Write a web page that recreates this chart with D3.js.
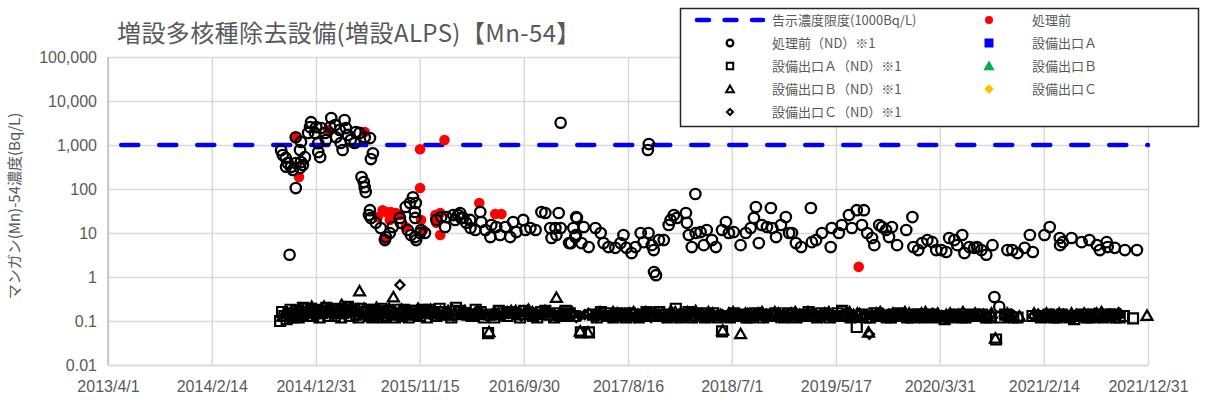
<!DOCTYPE html>
<html>
<head>
<meta charset="utf-8">
<script src="https://cdn.jsdelivr.net/npm/d3@7"></script>
<style>
  html, body { margin: 0; padding: 0; background: #fff; }
  svg { display: block; }
</style>
</head>
<body>
<svg id="chart" width="1205" height="403"></svg>
<script>
// ---- data ----
const chartTitle = "増設多核種除去設備(増設ALPS)【Mn-54】";
const yAxisTitle = "マンガン(Mn)-54濃度(Bq/L)";

const xTickDates = ["2013-04-01","2014-02-14","2014-12-31","2015-11-15","2016-09-30","2017-08-16","2018-07-01","2019-05-17","2020-03-31","2021-02-14","2021-12-31"];
const xTickLabels = ["2013/4/1","2014/2/14","2014/12/31","2015/11/15","2016/9/30","2017/8/16","2018/7/1","2019/5/17","2020/3/31","2021/2/14","2021/12/31"];
const yTickValues = [0.01, 0.1, 1, 10, 100, 1000, 10000, 100000];
const yTickLabels = ["0.01","0.1","1","10","100","1,000","10,000","100,000"];

// 告示濃度限度 (Bq/L)
const limitValue = 1000;

// 処理前 (detected)
const preDetected = [
  ["2014-10-30",1440],["2014-11-09",187],["2015-02-07",2200],["2015-05-30",1970],
  ["2015-11-16",800],["2016-01-30",1300],["2015-11-16",105],
  ["2015-07-09",23],["2015-07-24",33],["2015-08-03",30],["2015-08-18",30],["2015-09-03",28.5],
  ["2015-09-15",25.6],["2015-07-31",6.9],["2015-08-15",19.8],["2015-10-03",13.7],
  ["2015-11-19",19.8],["2015-11-25",11.7],["2016-01-02",25.6],["2016-01-05",17],
  ["2016-01-17",28.5],["2016-01-17",9],["2016-05-16",48],["2016-07-04",27],["2016-07-23",27],
  ["2019-07-26",1.7]
];

// 処理前 (ND) ※1
const preND = [
  ["2014-09-15",760],["2014-09-20",590],["2014-09-29",510],["2014-10-05",390],["2014-10-15",315],
  ["2014-09-30",320],["2014-10-21",270],["2014-10-30",390],["2014-11-15",410],["2014-11-21",350],
  ["2014-11-12",300],["2014-11-27",530],["2014-10-30",105],["2014-10-11",3.2],
  ["2014-12-16",3300],["2014-12-13",2550],["2014-12-07",1880],["2014-12-28",1880],["2015-01-07",1100],
  ["2015-01-07",690],["2015-01-13",530],["2015-01-01",2550],["2015-01-16",2430],["2015-02-16",4100],
  ["2015-02-13",2550],["2015-02-28",2850],["2015-03-14",2200],["2015-03-29",3700],["2015-04-02",2430],
  ["2015-04-08",1690],["2015-03-17",1110],["2015-03-23",770],["2015-04-17",1300],["2015-05-02",1970],
  ["2015-05-14",1880],["2015-05-30",1500],["2015-06-15",1440],["2014-10-30",1500],["2014-11-15",1170],
  ["2014-11-12",770],["2015-01-28",1880],["2015-01-31",1300],["2015-03-03",1500],["2015-04-29",1110],
  ["2015-06-24",650],["2015-06-18",480],["2015-05-20",187],["2015-05-27",144],["2015-05-30",110],
  ["2015-06-02",85],["2015-06-15",33],["2015-06-12",25.6],["2015-06-18",22],["2015-07-03",17],
  ["2015-07-18",13],["2015-07-31",6.9],["2015-08-03",8.1],["2015-08-15",10],["2015-08-24",13.7],
  ["2015-09-15",22],["2015-09-18",17],["2015-10-03",39],["2015-10-16",48],["2015-10-25",65],
  ["2015-11-03",48],["2015-10-31",30],["2015-11-01",22],["2015-10-09",11.7],["2015-10-19",9],
  ["2015-11-01",8.1],["2015-11-16",10],["2015-11-19",11.7],["2015-12-01",10],["2015-11-04",6.9],
  ["2016-01-05",19.8],["2016-01-20",23],["2016-02-05",23],["2016-02-01",13.7],["2016-02-26",25.6],
  ["2016-03-12",25.6],["2016-03-28",22],["2016-04-06",17],["2016-03-03",19.8],
  ["2016-03-18",28.5],["2016-03-21",22],["2016-04-18",19.8],["2016-04-19",13],["2016-05-04",11.7],
  ["2016-05-19",30],["2016-05-22",17.8],["2016-06-04",11.7],["2016-06-19",8.1],["2016-06-22",15.2],
  ["2016-07-07",13.7],["2016-07-19",9],["2016-08-04",13.7],["2016-08-19",8.1],["2016-08-28",17.8],
  ["2016-09-07",10.5],["2016-09-28",19.8],["2016-10-05",11.7],["2016-10-20",13],["2016-11-05",11.7],
  ["2016-11-23",30],["2016-12-05",28.5],["2016-12-20",13],["2017-01-05",13],["2017-01-15",28.5],
  ["2017-01-08",9],["2016-12-24",7.7],["2017-02-22",5.9],["2017-03-09",9],["2017-03-12",22],
  ["2017-01-21",3200],
  ["2017-10-19",1050],["2017-10-16",770],["2017-11-04",1.3],["2017-11-10",1.1],["2018-03-11",77],
  ["2017-01-21",13],["2017-02-16",5.9],["2017-03-10",23],["2017-03-01",13],["2017-03-07",8.1],
  ["2017-04-02",13.7],["2017-03-26",5.9],["2017-04-17",4.8],["2017-05-08",13],["2017-05-24",10],
  ["2017-06-02",5.9],["2017-06-17",4.8],["2017-07-08",4.6],["2017-07-24",5.9],["2017-08-02",9],
  ["2017-08-11",4.6],["2017-08-27",3.5],["2017-09-08",4.8],["2017-09-24",10],["2017-10-03",6.2],
  ["2017-10-18",10],["2017-10-28",5.3],["2017-11-03",4.1],["2017-11-19",6.9],["2017-12-04",6.9],
  ["2017-12-19",15.2],["2017-12-25",19.8],["2018-01-04",25.6],["2018-01-13",22],["2018-02-10",28.5],
  ["2018-02-13",17],["2018-02-19",9],["2018-02-28",4.8],["2018-03-12",10],["2018-03-27",10.5],
  ["2018-04-06",5.3],["2018-04-15",11.7],["2018-05-01",6.9],["2018-05-13",4.8],["2018-06-01",11.7],
  ["2018-06-13",17.8],["2018-06-22",10],["2018-07-07",10.5],["2018-07-28",5.3],["2018-08-13",10],
  ["2018-08-28",13],["2018-09-07",22],["2018-09-13",39],["2018-09-22",5.9],["2018-10-01",15.2],
  ["2018-10-17",13.7],["2018-10-29",37],["2018-11-02",13],["2018-11-14",8.1],["2018-11-29",15.2],
  ["2018-12-14",23],["2018-12-24",10],["2019-01-02",10],["2019-01-14",5.9],["2019-01-30",4.8],
  ["2019-03-01",37],["2019-03-04",6.2],["2019-03-17",6.9],["2019-04-04",10],["2019-05-01",4.8],
  ["2019-05-04",13],["2019-05-26",10],["2019-06-04",15.2],["2019-06-26",25.6],["2019-07-05",13],
  ["2019-07-20",33],
  ["2019-08-11",33],["2019-08-05",15.2],["2019-08-21",10],["2019-09-05",7.7],["2019-09-12",5.3],
  ["2019-09-27",15.2],["2019-10-06",13.7],["2019-10-18",11.7],["2019-10-27",8.1],["2019-11-05",13.7],
  ["2019-11-21",5.3],["2019-12-19",11.7],["2020-01-07",23],["2020-01-10",4.8],["2020-01-25",4.1],
  ["2020-02-06",5.9],["2020-02-22",6.9],["2020-03-08",6.2],["2020-03-20",4.1],["2020-04-05",4.1],
  ["2020-04-20",3.7],["2020-04-29",7.7],["2020-05-15",6.9],["2020-05-24",5.3],["2020-06-08",9],
  ["2020-06-15",3.5],["2020-06-30",4.8],["2020-07-15",4.6],["2020-07-24",4.8],["2020-08-06",4.1],
  ["2020-08-21",3.2],["2020-09-09",5.3],["2020-09-15",0.35],["2020-09-30",0.21],["2020-10-25",4.1],
  ["2020-11-09",4.1],["2020-11-25",3.5],["2020-12-17",4.6],["2021-01-02",9],["2021-01-11",3.7],
  ["2021-02-16",9],["2021-03-04",13.7],["2021-04-04",7.7],["2021-04-05",5.3],["2021-04-13",6.2],
  ["2021-05-10",7.7],["2021-06-10",6.2],["2021-07-04",6.9],["2021-07-27",5.3],["2021-08-05",4.1],
  ["2021-08-26",6.2],["2021-08-29",4.8],["2021-09-20",4.6],["2021-10-21",4.1],["2021-11-27",4.1]
];

// 設備出口A (ND) ※1
const outletAND = [
  ["2014-09-12",0.10],["2014-09-25",0.13],["2014-10-08",0.15],["2014-10-20",0.12],["2014-11-02",0.17],
  ["2014-11-15",0.14],["2014-11-28",0.19],["2014-12-10",0.16],["2014-12-22",0.13],["2015-01-05",0.18],
  ["2015-01-18",0.15],["2015-02-01",0.20],["2015-02-14",0.16],["2015-02-27",0.13],["2015-03-12",0.18],
  ["2015-03-25",0.15],["2015-04-08",0.21],["2015-04-21",0.17],["2015-05-04",0.14],["2015-05-18",0.19],
  ["2015-06-01",0.16],["2015-06-15",0.13],["2015-06-29",0.18],["2015-07-13",0.15],["2015-07-27",0.12],
  ["2015-08-10",0.17],["2015-08-24",0.14],["2015-09-07",0.18],["2015-09-21",0.13],["2015-10-05",0.16],
  ["2015-10-19",0.14],["2015-11-02",0.17],["2015-11-16",0.13],["2015-11-30",0.15],["2015-12-14",0.18],
  ["2015-12-28",0.15],["2016-01-15",0.19],["2016-02-10",0.14],["2016-03-05",0.20],["2016-03-30",0.15],
  ["2016-04-25",0.13],["2016-05-20",0.16],["2016-06-12",0.053],["2016-06-20",0.14],["2016-07-15",0.17],
  ["2016-08-10",0.13],["2016-09-05",0.15],["2016-10-01",0.17],["2016-10-28",0.13],["2016-11-22",0.16],
  ["2016-12-18",0.14],["2017-01-12",0.15],["2017-02-05",0.17],["2017-03-01",0.13],["2017-03-24",0.055],
  ["2017-04-18",0.055],["2017-04-30",0.14],["2017-05-25",0.16],["2017-06-20",0.13],["2017-07-15",0.15],
  ["2017-08-10",0.12],["2017-09-05",0.14],["2017-10-01",0.13],["2017-10-25",0.15],["2017-11-20",0.16],
  ["2017-12-15",0.12],["2018-01-10",0.19],["2018-02-05",0.14],["2018-03-01",0.12],["2018-03-28",0.15],
  ["2018-04-22",0.13],["2018-05-18",0.12],["2018-06-01",0.058],["2018-06-12",0.13],["2018-07-08",0.15],
  ["2018-08-02",0.13],["2018-08-28",0.12],["2018-09-22",0.14],["2018-10-18",0.13],["2018-11-12",0.15],
  ["2018-12-08",0.12],["2019-01-02",0.14],["2019-01-28",0.13],["2019-02-22",0.16],["2019-03-20",0.12],
  ["2019-04-15",0.14],["2019-05-10",0.13],["2019-06-05",0.17],["2019-07-01",0.12],["2019-07-20",0.073],
  ["2019-08-05",0.14],["2019-08-30",0.12],["2019-09-25",0.13],["2019-10-20",0.12],["2019-11-15",0.14],
  ["2019-12-10",0.13],["2020-01-05",0.12],["2020-02-01",0.14],["2020-02-25",0.13],["2020-03-20",0.12],
  ["2020-04-15",0.11],["2020-05-10",0.13],["2020-06-05",0.12],["2020-07-01",0.14],["2020-07-25",0.13],
  ["2020-08-20",0.12],["2020-09-20",0.038],["2020-10-05",0.12],["2020-10-30",0.13],["2020-11-25",0.12],
  ["2021-01-10",0.13],["2021-02-05",0.12],["2021-03-01",0.14],["2021-03-28",0.12],["2021-04-22",0.13],
  ["2021-05-18",0.11],["2021-06-12",0.14],["2021-07-08",0.12],["2021-08-02",0.13],["2021-08-28",0.14],
  ["2021-09-22",0.12],["2021-10-18",0.13],["2021-11-15",0.115],
  ["2014-09-18",0.16],["2014-10-02",0.11],["2014-10-14",0.18],["2014-10-27",0.14],["2014-11-08",0.12],
  ["2014-11-21",0.20],["2014-12-04",0.13],["2014-12-16",0.19],["2014-12-29",0.15],["2015-01-11",0.12],
  ["2015-01-24",0.17],["2015-02-07",0.13],["2015-02-20",0.19],["2015-03-05",0.15],["2015-03-18",0.12],
  ["2015-04-01",0.17],["2015-04-14",0.13],["2015-04-28",0.19],["2015-05-11",0.12],["2015-05-25",0.15],
  ["2015-06-08",0.18],["2015-06-22",0.12],["2015-07-06",0.16],["2015-07-20",0.19],["2015-08-03",0.13],
  ["2015-08-17",0.16],["2015-08-31",0.12],["2015-09-14",0.15],["2015-09-28",0.18],["2015-10-12",0.12],
  ["2015-10-26",0.17],["2015-11-09",0.15],["2015-11-23",0.18],["2015-12-07",0.12],["2015-12-21",0.16],
  ["2016-01-05",0.13],["2016-01-25",0.16],["2016-02-20",0.12],["2016-03-15",0.17],["2016-04-10",0.14],
  ["2016-05-05",0.18],["2016-05-30",0.12],
  ["2016-07-01",0.12],["2016-07-28",0.15],["2016-08-22",0.16],["2016-09-18",0.12],["2016-10-15",0.15],
  ["2016-11-10",0.12],["2016-12-05",0.17],["2017-01-01",0.12],["2017-01-25",0.13],["2017-02-18",0.15],
  ["2017-05-12",0.12],["2017-06-08",0.15],["2017-07-02",0.12],["2017-07-28",0.14],["2017-08-22",0.15],
  ["2017-09-18",0.12],["2017-10-12",0.16],["2017-11-08",0.13],["2017-12-02",0.14],["2017-12-28",0.13],
  ["2018-01-22",0.12],["2018-02-18",0.16],["2018-03-15",0.13],["2018-04-10",0.12],["2018-05-05",0.15],
  ["2018-06-25",0.12],["2018-07-20",0.14],["2018-08-15",0.12],["2018-09-10",0.15],["2018-10-05",0.12],
  ["2018-10-30",0.14],["2018-11-25",0.13],["2018-12-20",0.15],["2019-01-15",0.12],["2019-02-10",0.14],
  ["2019-03-08",0.13],["2019-04-02",0.15],["2019-04-28",0.12],["2019-05-22",0.15],["2019-06-18",0.13],
  ["2019-08-18",0.12],["2019-09-12",0.15],["2019-10-08",0.13],["2019-11-02",0.12],["2019-11-28",0.15],
  ["2019-12-22",0.12],["2020-01-18",0.14],["2020-02-12",0.12],["2020-03-08",0.14],["2020-04-02",0.13],
  ["2020-04-28",0.12],["2020-05-22",0.14],["2020-06-18",0.12],["2020-07-12",0.13],["2020-08-08",0.14],
  ["2020-09-02",0.12],["2020-10-18",0.14],["2020-11-12",0.12],["2021-02-18",0.13],["2021-03-15",0.12],
  ["2021-04-10",0.14],["2021-05-05",0.12],["2021-05-30",0.13],["2021-06-25",0.12],["2021-07-20",0.14],
  ["2021-08-15",0.12],["2021-09-10",0.14],["2021-10-05",0.12]
];

// 設備出口B (ND) ※1
const outletBND = [
  ["2014-09-20",0.12],["2014-10-15",0.15],["2014-11-10",0.18],["2014-12-05",0.14],["2014-12-30",0.17],
  ["2015-01-25",0.20],["2015-02-20",0.16],["2015-03-20",0.22],["2015-04-15",0.17],["2015-05-14",0.45],
  ["2015-06-10",0.16],["2015-07-05",0.19],["2015-08-01",0.14],["2015-08-26",0.33],["2015-09-20",0.17],
  ["2015-10-15",0.15],["2015-11-10",0.18],["2015-12-05",0.14],["2016-01-01",0.16],["2016-01-28",0.13],
  ["2016-02-22",0.17],["2016-03-20",0.15],["2016-04-15",0.14],["2016-05-10",0.16],["2016-06-05",0.13],
  ["2016-06-15",0.053],["2016-07-01",0.15],["2016-07-28",0.14],["2016-08-22",0.16],["2016-09-18",0.13],
  ["2016-10-14",0.17],["2016-11-08",0.14],["2016-12-04",0.16],["2017-01-08",0.32],["2017-01-30",0.13],
  ["2017-02-25",0.15],["2017-03-22",0.055],["2017-04-15",0.052],["2017-05-10",0.14],["2017-06-05",0.13],
  ["2017-07-01",0.15],["2017-07-26",0.12],["2017-08-20",0.14],["2017-09-15",0.13],["2017-10-10",0.15],
  ["2017-11-05",0.12],["2017-12-01",0.14],["2017-12-26",0.16],["2018-01-20",0.13],["2018-02-15",0.15],
  ["2018-03-12",0.16],["2018-04-07",0.12],["2018-05-03",0.14],["2018-05-28",0.13],["2018-06-03",0.058],
  ["2018-06-22",0.14],["2018-07-18",0.12],["2018-07-28",0.048],["2018-08-12",0.14],["2018-09-07",0.13],
  ["2018-10-02",0.15],["2018-10-28",0.12],["2018-11-22",0.14],["2018-12-18",0.13],["2019-01-12",0.15],
  ["2019-02-08",0.12],["2019-03-05",0.14],["2019-03-30",0.13],["2019-04-25",0.15],["2019-05-20",0.12],
  ["2019-06-15",0.14],["2019-07-10",0.13],["2019-08-05",0.12],["2019-08-25",0.052],["2019-09-18",0.14],
  ["2019-10-12",0.12],["2019-11-08",0.14],["2019-12-02",0.13],["2019-12-28",0.14],["2020-01-22",0.12],
  ["2020-02-16",0.15],["2020-03-12",0.13],["2020-04-06",0.12],["2020-05-02",0.14],["2020-05-28",0.13],
  ["2020-06-22",0.12],["2020-07-18",0.14],["2020-08-12",0.13],["2020-09-06",0.14],["2020-09-18",0.038],
  ["2020-11-05",0.13],["2020-12-01",0.12],["2021-01-15",0.14],["2021-02-10",0.12],["2021-03-08",0.13],
  ["2021-04-02",0.14],["2021-04-28",0.12],["2021-05-24",0.13],["2021-06-18",0.14],["2021-07-14",0.12],
  ["2021-08-10",0.15],["2021-09-05",0.13],["2021-10-01",0.14],["2021-12-28",0.125],
  ["2014-10-02",0.14],["2014-10-28",0.12],["2014-11-22",0.16],["2014-12-18",0.20],["2015-01-12",0.15],
  ["2015-02-07",0.18],["2015-03-05",0.14],["2015-04-02",0.19],["2015-04-28",0.15],["2015-05-28",0.18],
  ["2015-06-22",0.13],["2015-07-18",0.16],["2015-08-13",0.18],["2015-09-08",0.13],["2015-10-02",0.16],
  ["2015-10-28",0.13],["2015-11-22",0.16],["2015-12-18",0.17],["2016-01-14",0.14],["2016-02-10",0.16],
  ["2016-03-08",0.13],["2016-04-02",0.16],["2016-04-28",0.13],["2016-05-22",0.15],
  ["2016-07-15",0.13],["2016-08-10",0.15],["2016-09-05",0.16],["2016-10-01",0.13],["2016-10-26",0.15],
  ["2016-11-20",0.13],["2016-12-18",0.15],["2017-01-18",0.14],["2017-02-12",0.12],["2017-05-22",0.15],
  ["2017-06-18",0.12],["2017-07-14",0.14],["2017-08-08",0.13],["2017-09-02",0.15],["2017-09-28",0.12],
  ["2017-10-22",0.14],["2017-11-18",0.13],["2017-12-14",0.12],["2018-01-08",0.15],["2018-02-02",0.12],
  ["2018-02-28",0.14],["2018-03-25",0.13],["2018-04-20",0.15],["2018-05-15",0.12],["2018-07-05",0.15],
  ["2018-08-25",0.12],["2018-09-20",0.14],["2018-10-15",0.13],["2018-11-10",0.15],["2018-12-05",0.12],
  ["2018-12-30",0.14],["2019-01-25",0.13],["2019-02-20",0.15],["2019-03-18",0.12],["2019-04-12",0.14],
  ["2019-05-08",0.13],["2019-06-02",0.12],["2019-06-28",0.15],["2019-07-22",0.14],["2019-09-05",0.13],
  ["2019-09-30",0.15],["2019-10-25",0.13],["2019-11-20",0.12],["2019-12-15",0.15],["2020-01-10",0.13],
  ["2020-02-04",0.14],["2020-02-28",0.12],["2020-03-25",0.14],["2020-04-20",0.13],["2020-05-15",0.12],
  ["2020-06-10",0.15],["2020-07-05",0.12],["2020-07-30",0.13],["2020-08-25",0.12],["2020-10-25",0.14],
  ["2021-01-28",0.13],["2021-02-22",0.14],["2021-03-20",0.12],["2021-04-15",0.13],["2021-05-10",0.14],
  ["2021-06-05",0.12],["2021-06-30",0.13],["2021-07-26",0.14],["2021-08-22",0.12],["2021-09-18",0.13]
];

// 設備出口C (ND) ※1
const outletCND = [
  ["2014-10-01",0.14],["2014-10-28",0.16],["2014-11-22",0.13],["2014-12-18",0.18],["2015-01-12",0.15],
  ["2015-02-08",0.19],["2015-03-05",0.16],["2015-03-30",0.14],["2015-04-25",0.18],["2015-05-20",0.15],
  ["2015-06-15",0.13],["2015-07-10",0.17],["2015-08-05",0.14],["2015-08-30",0.16],["2015-09-15",0.66],
  ["2015-09-25",0.13],["2015-10-20",0.15],["2015-11-15",0.13],["2015-12-10",0.16],["2016-01-05",0.14],
  ["2016-02-01",0.16],["2016-02-27",0.13],["2016-03-24",0.15],["2016-04-20",0.14],["2016-05-15",0.16],
  ["2016-06-10",0.13],["2016-07-06",0.15],["2016-08-01",0.14],["2016-08-27",0.16],["2016-09-22",0.13],
  ["2016-10-18",0.15],["2016-11-13",0.14],["2016-12-09",0.16],["2017-01-04",0.13],["2017-01-30",0.15],
  ["2017-02-25",0.14],["2017-03-22",0.13],["2017-04-17",0.15],["2017-05-12",0.12],["2017-06-07",0.14],
  ["2017-07-03",0.13],["2017-07-28",0.15],["2017-08-23",0.12],["2017-09-18",0.14],["2017-10-13",0.13],
  ["2017-11-08",0.15],["2017-12-04",0.12],["2017-12-30",0.14],["2018-01-25",0.13],["2018-02-20",0.15],
  ["2018-03-18",0.14],["2018-04-12",0.12],["2018-05-08",0.13],["2018-06-02",0.14],["2018-06-28",0.12],
  ["2018-07-23",0.13],["2018-08-18",0.15],["2018-09-12",0.13],["2018-10-08",0.12],["2018-11-02",0.14],
  ["2018-11-28",0.13],["2018-12-23",0.12],["2019-01-18",0.14],["2019-02-12",0.13],["2019-03-10",0.15],
  ["2019-04-05",0.12],["2019-04-30",0.14],["2019-05-26",0.13],["2019-06-20",0.15],["2019-07-16",0.12],
  ["2019-08-10",0.14],["2019-08-28",0.05],["2019-09-25",0.13],["2019-10-20",0.14],["2019-11-15",0.12],
  ["2019-12-10",0.14],["2020-01-05",0.13],["2020-01-30",0.12],["2020-02-25",0.14],["2020-03-22",0.13],
  ["2020-04-16",0.12],["2020-05-12",0.14],["2020-06-06",0.13],["2020-07-02",0.12],["2020-07-28",0.14],
  ["2020-08-22",0.13],["2020-10-15",0.13],["2020-11-10",0.14],["2021-01-11",0.13],["2021-02-20",0.12],
  ["2021-03-15",0.14],["2021-04-10",0.13],["2021-05-05",0.12],["2021-06-01",0.14],["2021-06-25",0.13],
  ["2021-07-20",0.15],["2021-08-15",0.13],["2021-09-10",0.12],["2021-10-05",0.15],
  ["2014-10-15",0.12],["2014-11-10",0.18],["2014-12-05",0.15],["2014-12-30",0.13],["2015-01-25",0.17],
  ["2015-02-20",0.14],["2015-03-18",0.19],["2015-04-12",0.16],["2015-05-08",0.13],["2015-06-02",0.17],
  ["2015-06-28",0.15],["2015-07-22",0.13],["2015-08-18",0.17],["2015-10-08",0.17],["2015-11-02",0.14],
  ["2015-11-28",0.17],["2015-12-22",0.13],["2016-01-18",0.17],["2016-02-14",0.14],["2016-03-10",0.17],
  ["2016-04-06",0.13],["2016-05-02",0.15],["2016-05-28",0.14],
  ["2016-06-22",0.14],["2016-07-18",0.13],["2016-08-14",0.15],["2016-09-08",0.14],["2016-10-05",0.16],
  ["2016-10-30",0.13],["2016-11-26",0.15],["2016-12-22",0.13],["2017-01-17",0.14],["2017-02-12",0.15],
  ["2017-03-10",0.12],["2017-04-05",0.14],["2017-04-30",0.13],["2017-05-25",0.14],["2017-06-20",0.12],
  ["2017-07-15",0.14],["2017-08-10",0.13],["2017-09-05",0.12],["2017-10-01",0.15],["2017-10-26",0.12],
  ["2017-11-20",0.14],["2017-12-16",0.13],["2018-01-12",0.12],["2018-02-08",0.14],["2018-03-05",0.12],
  ["2018-03-30",0.15],["2018-04-25",0.13],["2018-05-20",0.14],["2018-06-15",0.13],["2018-07-10",0.14],
  ["2018-08-05",0.12],["2018-08-30",0.14],["2018-09-25",0.15],["2018-10-20",0.13],["2018-11-15",0.12],
  ["2018-12-10",0.14],["2019-01-05",0.13],["2019-01-30",0.12],["2019-02-25",0.14],["2019-03-22",0.13],
  ["2019-04-18",0.15],["2019-05-12",0.12],["2019-06-08",0.14],["2019-07-02",0.13],["2019-07-28",0.15],
  ["2019-09-12",0.12],["2019-10-08",0.15],["2019-11-02",0.13],["2019-11-28",0.14],["2019-12-22",0.12],
  ["2020-01-18",0.14],["2020-02-12",0.13],["2020-03-08",0.15],["2020-04-02",0.12],["2020-04-28",0.14],
  ["2020-05-25",0.12],["2020-06-18",0.14],["2020-07-15",0.13],["2020-08-10",0.12],["2020-09-02",0.14],
  ["2020-10-28",0.12],["2021-01-25",0.14],["2021-03-01",0.13],["2021-03-28",0.12],["2021-04-22",0.14],
  ["2021-05-18",0.13],["2021-06-12",0.12],["2021-07-08",0.14],["2021-08-02",0.12],["2021-08-28",0.14],
  ["2021-09-22",0.13]
];

const legendLabels = [
  "告示濃度限度(1000Bq/L)", "処理前",
  "処理前（ND）※1", "設備出口Ａ",
  "設備出口Ａ（ND）※1", "設備出口Ｂ",
  "設備出口Ｂ（ND）※1", "設備出口Ｃ",
  "設備出口Ｃ（ND）※1"
];

// ---- layout ----
const parse = d3.timeParse("%Y-%m-%d");
const plot = { left: 108, right: 1148, top: 57, bottom: 365 };
const textColor = "#595959";
const gridColor = "#d9d9d9";
const cjkFont = "'Noto Sans CJK JP', 'Noto Sans', sans-serif";
const numFont = "'Liberation Sans', Arial, sans-serif";

const svg = d3.select("#chart");

const x = d3.scaleTime()
  .domain([parse(xTickDates[0]), parse(xTickDates[xTickDates.length - 1])])
  .range([plot.left, plot.right]);
const y = d3.scaleLog()
  .domain([yTickValues[0], yTickValues[yTickValues.length - 1]])
  .range([plot.bottom, plot.top]);

// gridlines + y labels
const yAxis = d3.axisLeft(y)
  .tickValues(yTickValues)
  .tickFormat((d, i) => yTickLabels[i])
  .tickSizeInner(-(plot.right - plot.left))
  .tickSizeOuter(0)
  .tickPadding(11);
const gy = svg.append("g").attr("transform", `translate(${plot.left},0)`).call(yAxis);
gy.select(".domain").remove();
gy.selectAll(".tick line").attr("stroke", gridColor).attr("stroke-width", 1.5);
gy.selectAll(".tick text").attr("fill", textColor).style("font-family", numFont).style("font-size", "16px");

// gridlines + x labels
const xAxis = d3.axisBottom(x)
  .tickValues(xTickDates.map(parse))
  .tickFormat((d, i) => xTickLabels[i])
  .tickSizeInner(-(plot.bottom - plot.top))
  .tickSizeOuter(0)
  .tickPadding(16);
const gx = svg.append("g").attr("transform", `translate(0,${plot.bottom})`).call(xAxis);
gx.select(".domain").attr("stroke", gridColor).attr("stroke-width", 1.5);
gx.selectAll(".tick line").attr("stroke", gridColor).attr("stroke-width", 1.5);
gx.selectAll(".tick text").attr("fill", textColor).style("font-family", numFont).style("font-size", "16px");

// left axis line
svg.append("line")
  .attr("x1", plot.left).attr("x2", plot.left)
  .attr("y1", plot.top).attr("y2", plot.bottom)
  .attr("stroke", "#bfbfbf").attr("stroke-width", 1.5);

// limit line
const limitLine = d3.line().x(d => x(d[0])).y(d => y(d[1]));
svg.append("path")
  .datum([[x.domain()[0], limitValue], [x.domain()[1], limitValue]])
  .attr("d", limitLine)
  .attr("fill", "none")
  .attr("stroke", "#0000ff")
  .attr("stroke-width", 4.5)
  .attr("stroke-linecap", "round")
  .attr("stroke-dasharray", "17,21")
  .attr("stroke-dashoffset", 24.75);

const marks = svg.append("g");

// 処理前 (red filled)
marks.append("g").selectAll("circle").data(preDetected).join("circle")
  .attr("cx", d => x(parse(d[0]))).attr("cy", d => y(d[1]))
  .attr("r", 5.3).attr("fill", "#ff0000");

// 処理前 ND (open circles)
marks.append("g").selectAll("circle").data(preND).join("circle")
  .attr("cx", d => x(parse(d[0]))).attr("cy", d => y(d[1]))
  .attr("r", 5.2).attr("fill", "none").attr("stroke", "#000").attr("stroke-width", 2.3);

function drawSymbols(data, type, size, rotate) {
  const sym = d3.symbol().type(type).size(size);
  marks.append("g").selectAll("path").data(data).join("path")
    .attr("d", sym)
    .attr("transform", d => `translate(${x(parse(d[0]))},${y(d[1])}) rotate(${rotate})`)
    .attr("fill", "none").attr("stroke", "#000").attr("stroke-width", 2.2)
    .attr("stroke-linejoin", "miter");
}
drawSymbols(outletAND, d3.symbolSquare, 100, 0);
drawSymbols(outletBND, d3.symbolTriangle, 52, 0);
drawSymbols(outletCND, d3.symbolSquare, 42, 45);

// title
svg.append("text")
  .attr("x", 117).attr("y", 42)
  .attr("fill", textColor)
  .style("font-family", cjkFont).style("font-size", "24px")
  .style("letter-spacing", "0.4px")
  .text(chartTitle);

// y axis title
svg.append("text")
  .attr("transform", `translate(20,${(plot.top + plot.bottom) / 2 - 5}) rotate(-90)`)
  .attr("text-anchor", "middle")
  .attr("fill", textColor)
  .style("font-family", cjkFont).style("font-size", "15px")
  .text(yAxisTitle);

// legend
const lg = svg.append("g");
lg.append("rect")
  .attr("x", 680.5).attr("y", 8.5).attr("width", 518).attr("height", 118)
  .attr("fill", "#fff").attr("stroke", "#262626").attr("stroke-width", 1.5);

const rowY = [20, 43, 66, 89, 112];
const col = [{ mark: 730, text: 772 }, { mark: 989, text: 1032 }];
legendLabels.forEach((label, i) => {
  const c = col[i % 2], r = rowY[Math.floor(i / 2)];
  lg.append("text")
    .attr("x", c.text).attr("y", r).attr("dy", "0.35em")
    .attr("fill", textColor)
    .style("font-family", cjkFont).style("font-size", "13px")
    .text(label);
});
// legend samples
lg.append("line")
  .attr("x1", 697).attr("x2", 763).attr("y1", rowY[0]).attr("y2", rowY[0])
  .attr("stroke", "#0000ff").attr("stroke-width", 4.5)
  .attr("stroke-linecap", "round").attr("stroke-dasharray", "12,15.5");
lg.append("circle").attr("cx", col[1].mark).attr("cy", rowY[0]).attr("r", 4).attr("fill", "#ff0000");
lg.append("circle").attr("cx", col[0].mark).attr("cy", rowY[1]).attr("r", 3.3)
  .attr("fill", "none").attr("stroke", "#000").attr("stroke-width", 2.3);
const legendSym = (type, size, cx, cy, rot, fill) => {
  lg.append("path").attr("d", d3.symbol().type(type).size(size))
    .attr("transform", `translate(${cx},${cy}) rotate(${rot})`)
    .attr("fill", fill || "none")
    .attr("stroke", fill ? "none" : "#000").attr("stroke-width", 2);
};
legendSym(d3.symbolSquare, 81, col[1].mark, rowY[1], 0, "#0000ff");
legendSym(d3.symbolSquare, 42, col[0].mark, rowY[2], 0);
legendSym(d3.symbolTriangle, 55, col[1].mark, rowY[2] + 1, 0, "#00b050");
legendSym(d3.symbolTriangle, 26, col[0].mark, rowY[3] + 1, 0);
legendSym(d3.symbolSquare, 45, col[1].mark, rowY[3], 45, "#ffc000");
legendSym(d3.symbolSquare, 18, col[0].mark, rowY[4], 45);
</script>
</body>
</html>
